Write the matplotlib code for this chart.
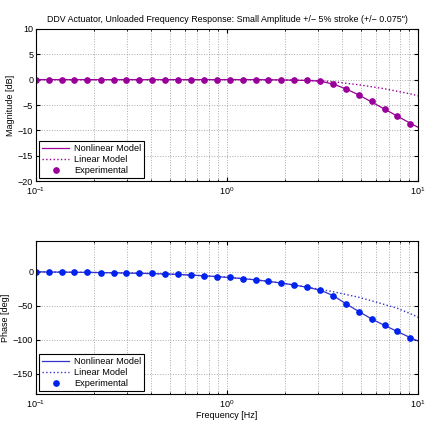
import matplotlib
matplotlib.use("Agg")
import matplotlib.pyplot as plt
import numpy as np

plt.rcParams['font.family'] = ['Liberation Sans', 'DejaVu Sans']
plt.rcParams['font.size'] = 6.5

# measured frequencies [Hz]
freq = [0.100, 0.117, 0.136, 0.159, 0.186, 0.218, 0.255, 0.297, 0.348, 0.406,
        0.474, 0.554, 0.647, 0.756, 0.884, 1.032, 1.206, 1.409, 1.646, 1.923,
        2.246, 2.624, 3.065, 3.581, 4.183, 4.887, 5.709, 6.669, 7.791, 9.101]
# model frequencies [Hz]
freq_model = freq + [10.0]

mag_exp = [0, 0, 0, 0, 0, 0, 0, 0, 0, 0,
           0, 0, 0, 0, 0, 0, 0, 0, 0, -0.05,
           -0.1, -0.1, -0.25, -0.8, -1.8, -3.0, -4.3, -5.8, -7.2, -8.7]
mag_nonlin = [0, 0, 0, 0, 0, 0, 0, 0, 0, 0,
              0, 0, 0, 0, 0, 0, 0, 0, -0.02, -0.05,
              -0.1, -0.15, -0.3, -0.85, -1.8, -3.0, -4.4, -5.8, -7.2, -8.6, -9.4]
mag_lin = [0, 0, 0, 0, 0, 0, 0, 0, 0, 0,
           0, 0, 0, 0, 0, 0, 0, -0.02, -0.04, -0.06,
           -0.1, -0.15, -0.2, -0.4, -0.7, -1.0, -1.4, -1.8, -2.3, -2.8, -3.2]

ph_exp = [0, -0.5, -0.5, -1, -1, -1.5, -1.5, -2, -2, -2.5,
          -3, -4, -5, -6.5, -7.3, -8.3, -10.3, -12.2, -14.1, -16.6,
          -19.6, -23, -27.4, -35.7, -47.5, -58.8, -69.6, -78.9, -87.7, -97]
ph_nonlin = [0, -0.5, -0.6, -0.8, -1, -1.3, -1.6, -2, -2.3, -2.8,
             -3.3, -4, -5, -6, -7.2, -8.6, -10.2, -12, -14.2, -16.7,
             -19.6, -23, -27, -35, -47, -58.5, -69.5, -79, -88, -97, -102]
ph_lin = [0, -0.5, -0.6, -0.8, -1, -1.3, -1.6, -2, -2.3, -2.8,
          -3.3, -4, -5, -6, -7.2, -8.6, -10.2, -12, -14.2, -16.7,
          -19.6, -22.5, -26, -29.4, -33.5, -37.6, -42.8, -48.3, -53.9, -61.7, -67]

purple = '#990099'
blue = '#0022ee'
blue_line = '#3333cc'

fig = plt.figure(figsize=(4.26, 4.26), dpi=100)
ax1 = fig.add_axes([0.0845, 0.575, 0.897, 0.357])
ax2 = fig.add_axes([0.0845, 0.075, 0.897, 0.359])


def style(ax):
    ax.set_xscale('log')
    ax.set_xlim(0.1, 10)
    ax.grid(True, which='both', axis='x', linestyle=':', color='#aaaaaa', linewidth=0.7)
    ax.grid(True, which='major', axis='y', linestyle=':', color='#aaaaaa', linewidth=0.7)
    ax.tick_params(which='both', direction='in', top=True, right=True, length=3)
    ax.tick_params(which='minor', length=1.5)
    ax.tick_params(axis='x', pad=3)
    ax.tick_params(axis='y', pad=2)
    for s in ax.spines.values():
        s.set_linewidth(0.8)


def add_legend(ax):
    leg = ax.legend(loc='lower left', fancybox=False, edgecolor='black', framealpha=1,
                    borderaxespad=0.3, handlelength=3.0, labelspacing=0.2, borderpad=0.35,
                    handletextpad=0.5, fontsize=6.6)
    leg.get_frame().set_linewidth(0.8)


ax1.plot(freq_model, mag_nonlin, '-', color=purple, lw=0.9, label='Nonlinear Model')
ax1.plot(freq_model, mag_lin, ':', color=purple, lw=1.0, label='Linear Model')
ax1.plot(freq, mag_exp, 'o', color=purple, ms=3.8, lw=0, label='Experimental')
style(ax1)
ax1.set_ylim(-20, 10)
ax1.set_yticks([10, 5, 0, -5, -10, -15, -20])
ax1.set_ylabel('Magnitude [dB]', labelpad=2)
ax1.set_title('DDV Actuator, Unloaded Frequency Response: Small Amplitude +/\u2212 5% stroke (+/\u2212 0.075")',
              fontsize=6.4, pad=5)
add_legend(ax1)

ax2.plot(freq_model, ph_nonlin, '-', color=blue_line, lw=0.9, label='Nonlinear Model')
ax2.plot(freq_model, ph_lin, ':', color=blue_line, lw=1.0, label='Linear Model')
ax2.plot(freq, ph_exp, 'o', color=blue, ms=3.8, lw=0, label='Experimental')
style(ax2)
ax2.set_ylim(-180, 45)
ax2.set_yticks([0, -50, -100, -150])
ax2.set_ylabel('Phase [deg]', labelpad=2)
ax2.set_xlabel('Frequency [Hz]', labelpad=1)
add_legend(ax2)

fig.savefig('out.png', dpi=100)
